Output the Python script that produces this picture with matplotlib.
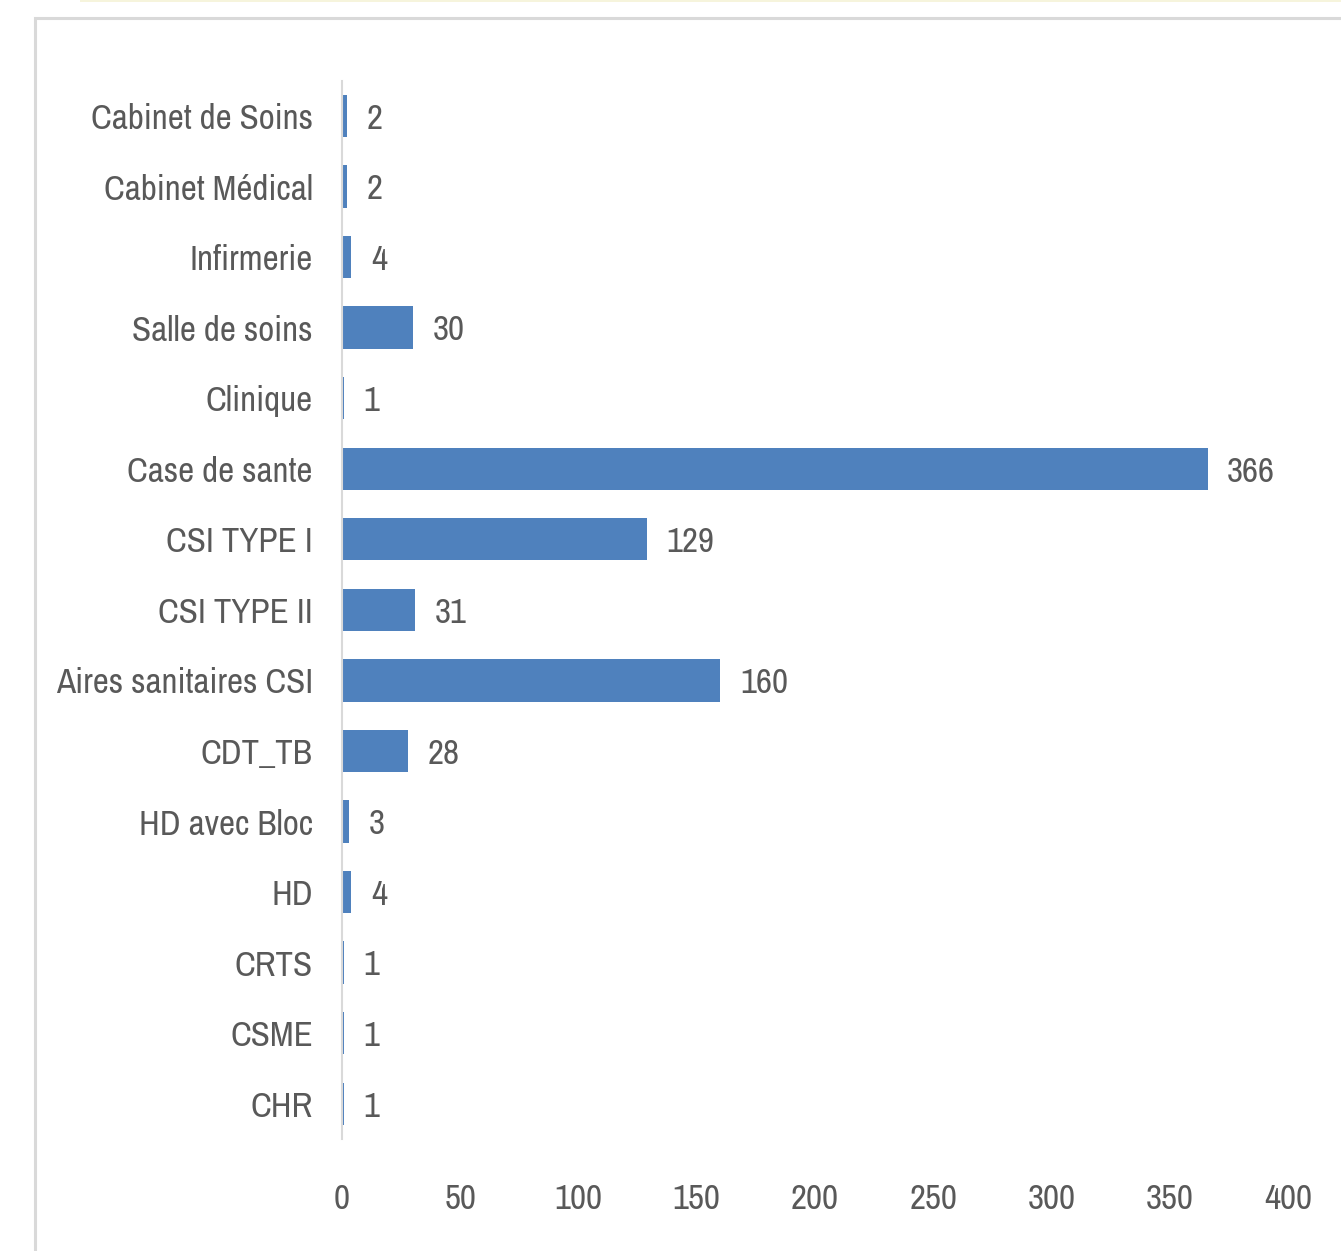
import matplotlib
matplotlib.use("Agg")
import matplotlib.pyplot as plt
from matplotlib import font_manager
from matplotlib.patches import Rectangle

installed = {f.name for f in font_manager.fontManager.ttflist}
narrow = sorted(n for n in installed if 'Narrow' in n or 'Condensed' in n)
family = narrow[0] if narrow else 'Roboto'
plt.rcParams['font.family'] = [family, 'DejaVu Sans']

categories = ["Cabinet de Soins", "Cabinet Médical", "Infirmerie", "Salle de soins",
              "Clinique", "Case de sante", "CSI TYPE I", "CSI TYPE II",
              "Aires sanitaires CSI", "CDT_TB", "HD avec Bloc", "HD", "CRTS",
              "CSME", "CHR"]
counts = [2, 2, 4, 30, 1, 366, 129, 31, 160, 28, 3, 4, 1, 1, 1]
xticks = [0, 50, 100, 150, 200, 250, 300, 350, 400]

text_col = "#595959"
bar_col = "#4f81bd"

fig = plt.figure(figsize=(13.41, 12.51), dpi=100)

# fit the font size so the longest label is about as wide as in the reference
renderer = fig.canvas.get_renderer()
probe = fig.text(0, 0, "Aires sanitaires CSI", fontsize=31)
w = probe.get_window_extent(renderer).width
probe.remove()
fs = min(32, 31 * 257 / w)

ax = fig.add_axes([0.2550, 0.0895, 0.7055, 0.8460])

ypos = list(range(len(categories)))
ax.barh(ypos, counts, height=0.6, color=bar_col)
ax.set_ylim(len(categories) - 0.5, -0.5)
ax.set_xlim(0, 400)
ax.set_yticks(ypos)
ax.set_yticklabels(categories)
ax.set_xticks(xticks)

ax.tick_params(axis='y', length=0, pad=21, labelsize=fs, labelcolor=text_col)
ax.tick_params(axis='x', length=0, pad=32, labelsize=fs, labelcolor=text_col)

for s in ['top', 'right', 'bottom']:
    ax.spines[s].set_visible(False)
ax.spines['left'].set_color("#d9d9d9")
ax.spines['left'].set_linewidth(1.5)

for y, v in zip(ypos, counts):
    ax.annotate(str(v), (v, y), xytext=(14, -2), textcoords='offset points',
                va='center', ha='left', fontsize=fs, color=text_col)

# outer chart border and faint top strip
fig.patches.append(Rectangle((0.026, -0.2), 1.2, 1.1856, transform=fig.transFigure,
                             fill=False, edgecolor="#d9d9d9", linewidth=2.2))
fig.patches.append(Rectangle((0.06, 0.9985), 0.94, 0.0015, transform=fig.transFigure,
                             facecolor="#f6f4dc", edgecolor='none'))

fig.savefig("out.png", dpi=100)
